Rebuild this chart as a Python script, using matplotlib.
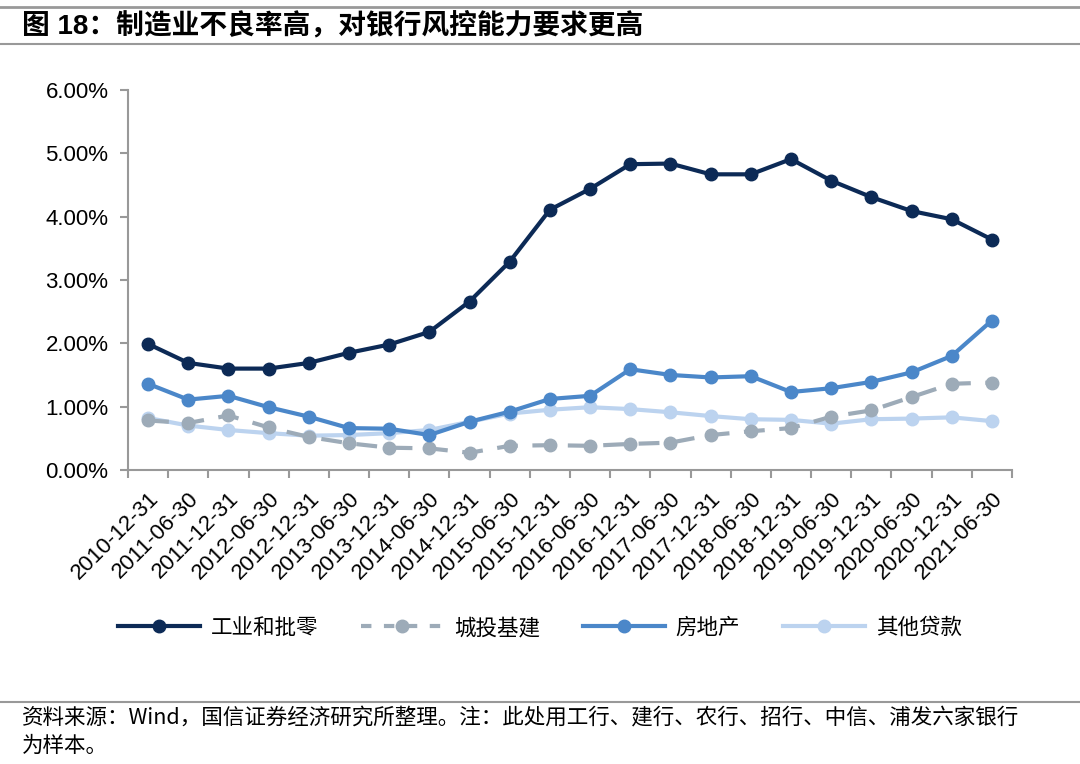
import numpy as np
import matplotlib.pyplot as plt
from matplotlib.lines import Line2D

plt.rcParams['font.family'] = ['Liberation Sans', 'Noto Sans CJK SC', 'DejaVu Sans']

dates = ['2010-12-31', '2011-06-30', '2011-12-31', '2012-06-30', '2012-12-31',
         '2013-06-30', '2013-12-31', '2014-06-30', '2014-12-31', '2015-06-30',
         '2015-12-31', '2016-06-30', '2016-12-31', '2017-06-30', '2017-12-31',
         '2018-06-30', '2018-12-31', '2019-06-30', '2019-12-31', '2020-06-30',
         '2020-12-31', '2021-06-30']

# 不良率（%）
industry = [1.99, 1.69, 1.60, 1.60, 1.69, 1.85, 1.98, 2.18, 2.66, 3.29, 4.11,
            4.44, 4.83, 4.84, 4.67, 4.67, 4.91, 4.57, 4.31, 4.09, 3.96, 3.64]
city_infra = [0.78, 0.74, 0.86, 0.67, 0.52, 0.42, 0.35, 0.34, 0.27, 0.38, 0.39,
              0.38, 0.41, 0.43, 0.55, 0.61, 0.66, 0.84, 0.94, 1.15, 1.36, 1.38]
real_estate = [1.36, 1.11, 1.17, 0.99, 0.84, 0.66, 0.65, 0.55, 0.76, 0.92, 1.12,
               1.17, 1.59, 1.50, 1.46, 1.48, 1.23, 1.29, 1.39, 1.54, 1.80, 2.36]
other_loans = [0.82, 0.70, 0.63, 0.58, 0.54, 0.55, 0.58, 0.63, 0.76, 0.89, 0.95,
               0.99, 0.96, 0.91, 0.85, 0.80, 0.79, 0.73, 0.80, 0.81, 0.83, 0.77]

labels = ['工业和批零', '城投基建', '房地产', '其他贷款']
colors = ['#0c2a56', '#9dabb8', '#4b87c9', '#bcd3ef']

fig = plt.figure(figsize=(10.8, 7.64), dpi=100)
ax = fig.add_axes([0.1185, 0.385, 0.8185, 0.497])

x = np.arange(len(dates))
lw, ms = 3.0, 9
ax.plot(x, other_loans, color=colors[3], lw=lw, marker='o', ms=ms, zorder=2)
ax.plot(x, city_infra, color=colors[1], lw=lw, marker='o', ms=ms,
        dashes=(5, 3.5), zorder=3)
ax.plot(x, real_estate, color=colors[2], lw=lw, marker='o', ms=ms, zorder=4)
ax.plot(x, industry, color=colors[0], lw=lw, marker='o', ms=ms, zorder=5)

# 坐标轴
ax.set_xlim(-0.5, len(dates) - 0.5)
ax.set_ylim(0, 6)
ax.set_yticks(np.arange(0, 7, 1))
ax.set_yticklabels(['{:.2f}%'.format(v) for v in np.arange(0, 7, 1)], fontsize=16)
ax.set_xticks(x)
ax.set_xticklabels(dates, rotation=45, ha='right', rotation_mode='anchor', fontsize=16)
ax.set_xticks(np.arange(-0.5, len(dates), 1), minor=True)
ax.tick_params(axis='x', which='major', length=0, pad=13)
ax.tick_params(axis='x', which='minor', length=6, color='#999999', width=1.5)
ax.tick_params(axis='y', length=6, color='#999999', width=1.5, pad=8)
for s in ['top', 'right']:
    ax.spines[s].set_visible(False)
for s in ['left', 'bottom']:
    ax.spines[s].set_color('#999999')
    ax.spines[s].set_linewidth(1.5)

# 图例
handles = [
    Line2D([], [], color=colors[0], lw=lw, marker='o', ms=ms),
    Line2D([], [], color=colors[1], lw=lw, marker='o', ms=ms, dashes=(2.5, 3)),
    Line2D([], [], color=colors[2], lw=lw, marker='o', ms=ms),
    Line2D([], [], color=colors[3], lw=lw, marker='o', ms=ms),
]
fig.legend(handles, labels, loc='center', bbox_to_anchor=(0.5, 0.178), ncol=4,
           frameon=False, handlelength=3.8, columnspacing=2.0, handletextpad=0.5,
           prop={'family': ['Noto Sans CJK SC'], 'size': 15.5})

# 标题与注释
fig.add_artist(Line2D([0.0, 1.0], [0.991, 0.991], color='#999999', lw=2))
fig.add_artist(Line2D([0.0, 1.0], [0.943, 0.943], color='#999999', lw=1.5))
fig.text(0.02, 0.966, '图 18：制造业不良率高，对银行风控能力要求更高', fontsize=20,
         fontweight='bold', va='center', ha='left')
fig.add_artist(Line2D([0.0, 1.0], [0.081, 0.081], color='#999999', lw=1.5))
fig.text(0.02, 0.060, '资料来源：Wind，国信证券经济研究所整理。注：此处用工行、建行、农行、招行、中信、浦发六家银行',
         fontsize=15.5, va='center', ha='left', family=['Noto Sans CJK SC'])
fig.text(0.02, 0.024, '为样本。', fontsize=15.5, va='center', ha='left',
         family=['Noto Sans CJK SC'])

fig.savefig('out.png', dpi=100)
